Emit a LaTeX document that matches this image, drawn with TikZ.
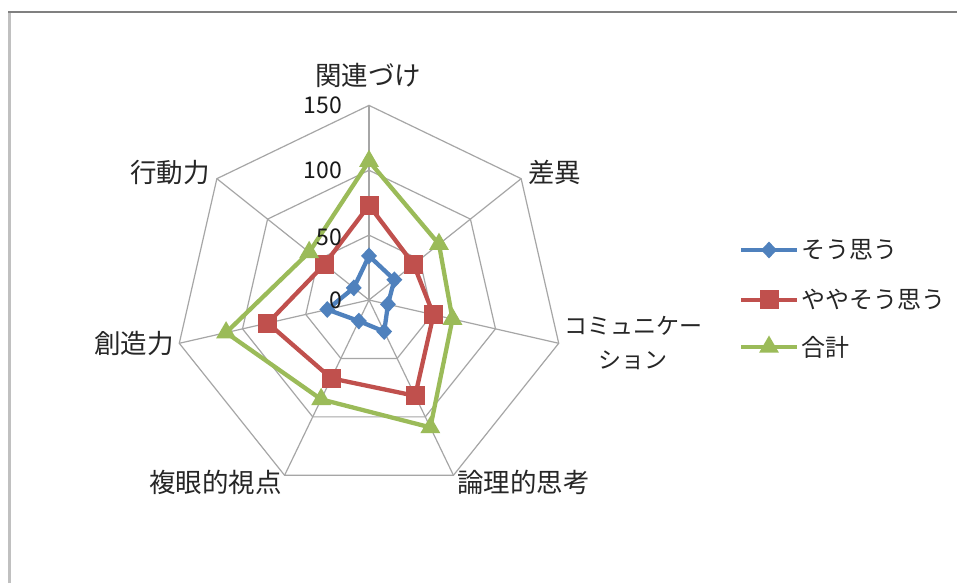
\documentclass[tikz,border=0pt]{standalone}
\usepackage{fontspec}
\setmainfont{Noto Sans CJK JP}
\usetikzlibrary{shapes.geometric}
\definecolor{sblue}{HTML}{4F81BD}
\definecolor{sred}{HTML}{C0504D}
\definecolor{sgreen}{HTML}{9BBB59}
\definecolor{gridc}{HTML}{A6A6A6}
\definecolor{frametop}{HTML}{808080}
\definecolor{frameleft}{HTML}{C0C0C0}
\begin{document}
\begin{tikzpicture}[x=1pt,y=1pt,
  gridline/.style={draw=gridc,line width=1.2pt},
  lbl/.style={inner sep=0pt,font=\fontsize{26.5}{34}\selectfont,text=black!85},
  num/.style={inner sep=0pt,font=\fontsize{23}{26}\selectfont,text=black!90,anchor=east},
  leg/.style={inner sep=0pt,font=\fontsize{24}{30}\selectfont,text=black!85,anchor=west},
  sline/.style={line width=4.3pt,line join=round},
  bmark/.style={diamond,fill=sblue,inner sep=0pt,minimum width=16pt,minimum height=17pt},
  rmark/.style={rectangle,fill=sred,inner sep=0pt,minimum size=19pt},
  gmark/.style={regular polygon,regular polygon sides=3,fill=sgreen,inner sep=0pt,minimum size=23pt},
]
\useasboundingbox (0,0) rectangle (957,583);
\fill[white] (0,0) rectangle (957,583);
% frame
\draw[frameleft,line width=3pt] (9.5,0) -- (9.5,571);
\draw[frametop,line width=1.3pt] (8,571) -- (957,571);

\begin{scope}[shift={(369,283)}]
  % grid
  \foreach \r in {64.87,129.73,194.6}
    \draw[gridline] (90:\r) \foreach \k in {1,...,6}{ -- ({90-\k*360/7}:\r)} -- cycle;
  \foreach \k in {0,...,6}
    \draw[gridline] (0,0) -- ({90-\k*360/7}:194.6);
  \def\s{1.2973}
  % data points
  \foreach \v [count=\k from 0] in {34,25,15,27,18,33,15}
    \coordinate (b\k) at ({90-\k*360/7}:{\v*\s});
  \foreach \v [count=\k from 0] in {73,44,51,82,67,80,44}
    \coordinate (r\k) at ({90-\k*360/7}:{\v*\s});
  \foreach \v [count=\k from 0] in {107,69,66,109,85,113,59}
    \coordinate (g\k) at ({90-\k*360/7}:{\v*\s});
  % series
  \draw[sline,sblue] (b0) -- (b1) -- (b2) -- (b3) -- (b4) -- (b5) -- (b6) -- cycle;
  \foreach \k in {0,...,6} \node[bmark] (mb\k) at (b\k) {};
  \draw[sline,sred] (r0) -- (r1) -- (r2) -- (r3) -- (r4) -- (r5) -- (r6) -- cycle;
  \foreach \k in {0,...,6} \node[rmark] (mr\k) at (r\k) {};
  \draw[sline,sgreen] (g0) -- (g1) -- (g2) -- (g3) -- (g4) -- (g5) -- (g6) -- cycle;
  \foreach \k in {0,...,6} \node[gmark] (mg\k) at (g\k) {};
\end{scope}

% scale labels
\node[num] (n150) at (342,477.5) {150};
\node[num] (n100) at (342,412.5) {100};
\node[num] (n50) at (342,345.5) {50};
\node[num] (n0) at (342,282.5) {0};

% axis labels
\node[lbl] (a0) at (368,507.5) {関連づけ};
\node[lbl,anchor=west] (a1) at (528,411) {差異};
\node[lbl,align=center,font=\fontsize{23}{34}\selectfont] (a2) at (633,239.5) {コミュニケー\\ション};
\node[lbl,anchor=west] (a3) at (457,101) {論理的思考};
\node[lbl,anchor=east] (a4) at (282,101) {複眼的視点};
\node[lbl,anchor=east] (a5) at (174,240) {創造力};
\node[lbl,anchor=east] (a6) at (210,411) {行動力};

% legend
\coordinate (l1a) at (741,333); \coordinate (l1b) at (797,333);
\draw[sline,sblue] (l1a) -- (l1b);
\node[bmark] (lm1) at (769,333) {};
\node[leg] (lt1) at (801,333) {そう思う};
\coordinate (l2a) at (741,283); \coordinate (l2b) at (797,283);
\draw[sline,sred] (l2a) -- (l2b);
\node[rmark] (lm2) at (769,283) {};
\node[leg] (lt2) at (801,283) {ややそう思う};
\coordinate (l3a) at (741,236); \coordinate (l3b) at (797,236);
\draw[sline,sgreen] (l3a) -- (l3b);
\node[gmark] (lm3) at (769,236) {};
\node[leg] (lt3) at (801,236) {合計};
\end{tikzpicture}
\end{document}
